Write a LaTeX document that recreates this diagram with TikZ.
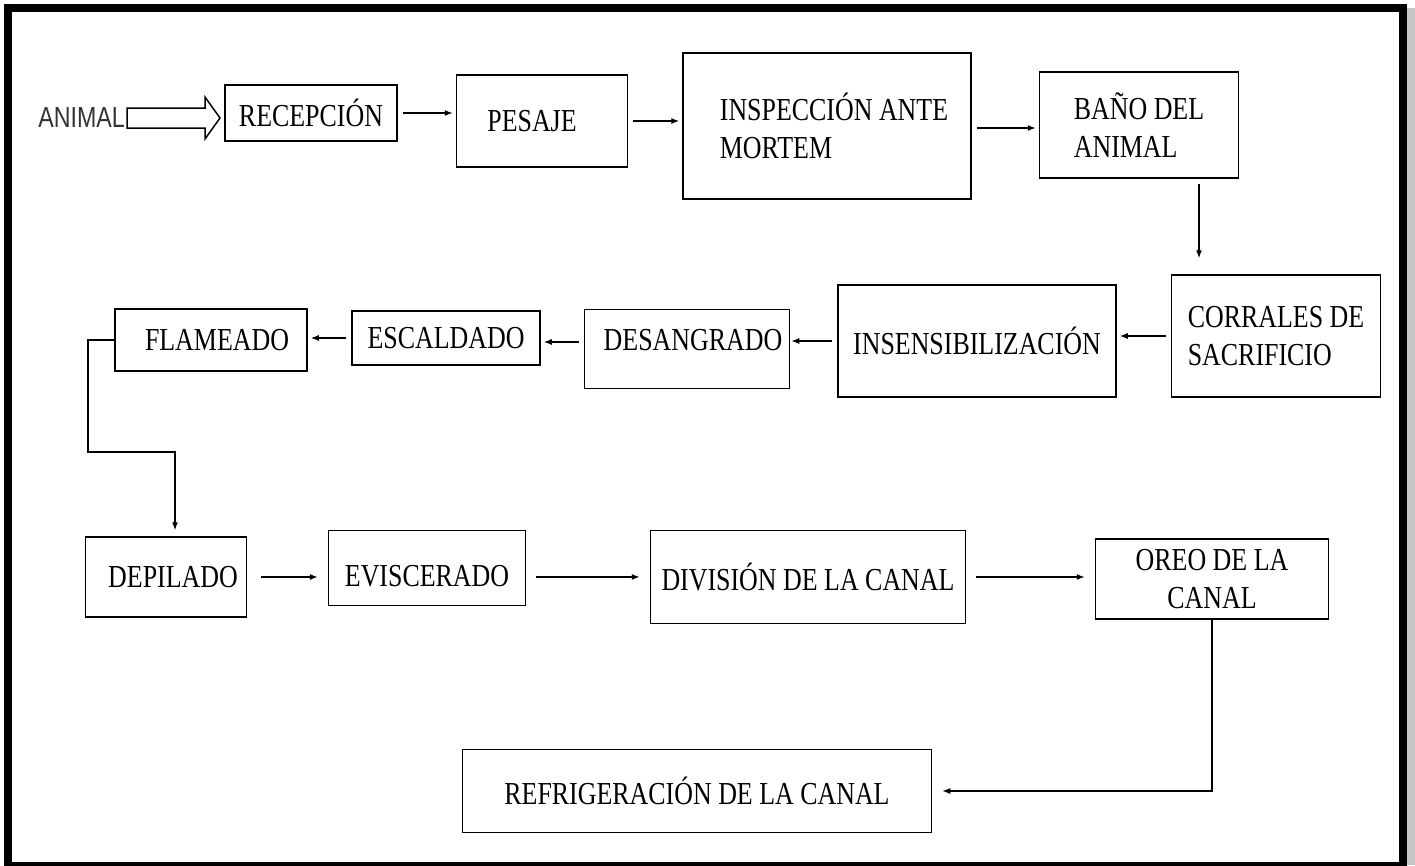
\documentclass[tikz,border=0pt]{standalone}
\usepackage{fontspec}
\setmainfont{Liberation Serif}[FakeStretch=0.81]
\newfontfamily\animalfont{Liberation Sans}[FakeStretch=0.8]
\usepackage{tikz}
\usetikzlibrary{calc,arrows.meta}

\tikzset{
  paso/.style={draw, line width=1.5pt, inner sep=0pt, align=left, font=\fontsize{32}{38}\selectfont},
  flecha/.style={-{Latex[length=8pt,width=6pt]}, line width=1.2pt, shorten <=5pt, shorten >=3pt}
}

\begin{document}
\begin{tikzpicture}[x=1pt, y=-1pt]

\useasboundingbox (0,0) rectangle (1415,865);
\fill[gray!45] (1407,8) rectangle (1415,865);
\draw[line width=8pt] (8,8) rectangle (1403,866);

\node[anchor=east, font=\animalfont\fontsize{29}{30}\selectfont, text=black!80, inner sep=0pt] (animal) at (125,118) {ANIMAL};
\draw[line width=1.5pt] (animal.east) ++(2,-10) -- ++(78,0) -- ++(0,-11) -- ++(15,21) -- ++(-15,21) -- ++(0,-11) -- ++(-78,0) -- cycle;

\node[paso, minimum width=172pt, minimum height=56pt] (recepcion) at (311,113) {RECEPCIÓN};
\node[paso, minimum width=171pt, minimum height=92pt] (pesaje) at (542,121) {PESAJE\hspace{20pt}};
\node[paso, minimum width=288pt, minimum height=146pt] (inspeccion) at (827,126) {\hspace{14pt}INSPECCIÓN ANTE\\\hspace{14pt}MORTEM};
\node[paso, minimum width=199pt, minimum height=106pt] (bano) at (1139,125) {BAÑO DEL\\ANIMAL};

\node[paso, minimum width=209pt, minimum height=122pt] (corrales) at (1276,336) {CORRALES DE\\SACRIFICIO};
\node[paso, minimum width=278pt, minimum height=112pt] (insens) at (977,341) {INSENSIBILIZACIÓN};
\node[paso, minimum width=205pt, minimum height=79pt] (desangrado) at (687,349) {\raisebox{9pt}[\height][\depth]{\hspace{12pt}DESANGRADO}};
\node[paso, minimum width=188pt, minimum height=54pt] (escaldado) at (446,338) {ESCALDADO};
\node[paso, minimum width=192pt, minimum height=62pt] (flameado) at (211,340) {\hspace{12pt}FLAMEADO};

\node[paso, minimum width=161pt, minimum height=80pt] (depilado) at (166,577) {\hspace{14pt}DEPILADO};
\node[paso, minimum width=197pt, minimum height=75pt] (eviscerado) at (427,568) {\raisebox{-8pt}[\height][\depth]{EVISCERADO}};
\node[paso, minimum width=315pt, minimum height=93pt] (division) at (808,577) {DIVISIÓN DE LA CANAL};
\node[paso, minimum width=233pt, minimum height=80pt, align=center] (oreo) at (1212,579) {OREO DE LA\\CANAL};

\node[paso, minimum width=469pt, minimum height=83pt] (refrig) at (697,791) {REFRIGERACIÓN DE LA CANAL};

\coordinate (codo) at (88,452);

\draw[flecha] (recepcion.east) -- (recepcion.east -| pesaje.west);
\draw[flecha] (pesaje.east) -- (pesaje.east -| inspeccion.west);
\draw[flecha] ([yshift=-2pt]inspeccion.east) -- ([yshift=-2pt]inspeccion.east -| bano.west);
\draw[flecha, shorten >=16pt] ([xshift=60pt]bano.south) -- ([xshift=60pt]bano.south |- corrales.north);
\draw[flecha] (corrales.west) -- (corrales.west -| insens.east);
\draw[flecha, shorten >=1pt] (insens.west) -- (insens.west -| desangrado.east);
\draw[flecha] ([yshift=-4pt]desangrado.west |- escaldado.east) -- ([yshift=-4pt]escaldado.east);
\draw[flecha] (escaldado.west) -- (escaldado.west -| flameado.east);
\draw[flecha, shorten <=0pt, shorten >=6pt] (flameado.west) -| (codo) -| ([xshift=9pt]depilado.north);
\draw[flecha, shorten <=14pt, shorten >=10pt] (depilado.east) -- (depilado.east -| eviscerado.west);
\draw[flecha, shorten <=10pt, shorten >=10pt] (eviscerado.east |- division.west) -- (division.west);
\draw[flecha, shorten <=10pt, shorten >=10pt] (division.east) -- (division.east -| oreo.west);
\draw[flecha, shorten <=0pt, shorten >=10pt] (oreo.south) |- (refrig.east);

\end{tikzpicture}
\end{document}
